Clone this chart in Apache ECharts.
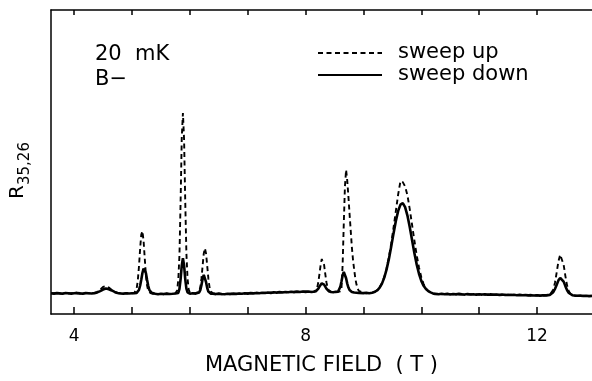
<!DOCTYPE html>
<html><head><meta charset="utf-8">
<script src="https://cdn.jsdelivr.net/npm/echarts@6/dist/echarts.min.js"></script>
<style>html,body{margin:0;padding:0;background:#fff}#c{width:592px;height:381px}</style>
</head><body><div id="c"></div>
<script>
// Magnetic field (T)
const fieldT = [
3.60,3.65,3.70,3.75,3.80,3.85,3.90,3.95,4.00,4.05,4.10,4.15,4.20,4.25,4.30,
4.35,4.40,4.45,4.50,4.55,4.60,4.65,4.70,4.75,4.80,4.85,4.90,4.95,5.00,
5.04,5.06,5.08,5.10,5.12,5.14,5.16,5.18,5.20,5.22,5.24,5.26,5.28,5.30,5.32,5.34,5.36,
5.40,5.45,5.50,5.55,5.60,5.65,5.70,5.75,
5.78,5.80,5.82,5.84,5.86,5.88,5.90,5.92,5.94,5.96,5.98,6.00,
6.05,6.10,6.16,6.18,6.20,6.22,6.24,6.26,6.28,6.30,6.32,6.34,6.36,
6.40,6.45,6.50,6.55,6.60,6.65,6.70,6.75,6.80,6.85,6.90,6.95,7.00,7.05,7.10,7.15,7.20,7.25,7.30,7.35,7.40,7.45,7.50,7.55,7.60,7.65,7.70,7.75,7.80,7.85,7.90,7.95,8.00,8.05,8.10,
8.14,8.16,8.18,8.20,8.22,8.24,8.26,8.28,8.30,8.32,8.34,8.36,8.38,8.40,8.42,8.44,
8.48,8.52,8.56,
8.58,8.60,8.62,8.64,8.66,8.68,8.70,8.72,8.74,8.76,8.78,8.80,8.82,8.84,8.86,8.88,8.90,8.92,
8.95,9.00,9.05,9.10,9.15,
9.20,9.24,9.28,9.32,9.36,9.40,9.44,9.48,9.52,9.56,9.60,9.64,9.68,9.72,9.76,9.80,9.84,9.88,9.92,9.96,10.00,10.04,10.08,10.12,10.16,10.20,10.24,
10.30,10.35,10.40,10.45,10.50,10.55,10.60,10.65,10.70,10.75,10.80,10.85,10.90,10.95,11.00,11.05,11.10,11.15,11.20,11.25,11.30,11.35,11.40,11.45,11.50,11.55,11.60,11.65,11.70,11.75,11.80,11.85,11.90,11.95,12.00,12.05,12.10,
12.13,12.16,12.19,12.22,12.25,12.28,12.31,12.34,12.37,12.40,12.43,12.46,12.49,12.52,12.55,12.58,12.61,12.64,12.67,12.70,
12.75,12.80,12.85,12.90,12.95
];
// R35,26 (arb. units), sweep down (solid)
const sweepDown = [
21.2,20.8,21.3,21.0,20.7,21.4,21.1,20.8,21.2,21.5,21.0,20.8,21.3,21.1,20.9,
21.3,22.0,23.4,25.0,26.0,25.3,24.0,22.5,21.5,21.0,20.7,21.2,20.9,21.1,
21.2,21.3,21.5,22.3,24.5,28.8,35.0,41.8,46.4,46.8,41.8,35.0,28.8,24.5,22.5,21.6,21.0,
20.6,20.2,20.7,20.3,20.8,20.4,20.6,20.9,
20.8,21.5,25.7,35.6,49.6,57.0,49.6,35.6,25.9,22.0,21.0,20.7,
21.2,20.8,22.0,24.4,29.3,35.7,39.8,38.3,32.5,26.5,22.9,21.5,20.8,
20.6,20.3,20.8,20.4,20.1,20.6,20.3,20.8,20.5,20.9,20.6,21.1,20.8,21.3,21.0,21.5,21.2,21.7,21.4,21.9,21.5,22.1,21.8,22.3,21.9,22.5,22.2,22.7,22.3,22.8,22.5,23.0,22.6,22.9,22.5,
22.7,22.8,23.3,24.3,25.9,28.0,30.0,31.3,31.3,30.0,28.0,25.9,24.3,23.3,22.8,22.5,
22.2,22.6,22.7,
24.2,27.6,33.1,39.3,42.9,41.6,36.4,31.0,27.0,24.5,23.2,22.5,22.3,22.0,21.8,21.7,21.5,21.4,
21.8,21.3,21.6,21.2,21.7,
22.7,24.2,26.8,31.0,37.1,45.5,56.2,68.8,82.2,94.9,105.2,111.5,113.0,108.9,100.4,88.7,75.5,62.3,50.6,41.0,33.8,28.7,25.4,23.3,22.0,21.0,20.5,
20.2,20.6,20.1,20.5,19.9,20.4,20.0,20.5,20.1,19.8,20.3,19.9,20.2,19.7,20.1,19.8,20.2,19.7,20.0,19.6,19.9,19.5,19.8,19.4,19.7,19.3,19.6,19.2,19.5,19.1,19.4,19.0,19.2,18.8,19.1,18.7,19.0,
18.9,19.0,19.1,19.5,20.3,22.2,25.5,29.9,34.3,36.8,36.3,33.0,28.4,24.2,21.4,19.9,19.2,18.8,18.6,18.5,
18.7,18.3,18.6,18.2,18.5
];
// R35,26 (arb. units), sweep up (dashed)
const sweepUp = [
21.0,21.1,21.2,20.8,21.0,21.3,20.9,21.1,21.4,21.2,20.9,21.1,21.5,21.0,21.2,
21.4,22.6,25.0,27.6,28.4,27.0,24.6,22.4,21.4,21.1,20.9,21.3,21.0,21.2,
21.4,22.5,25.9,34.0,48.2,66.2,81.0,84.6,74.6,57.0,40.3,29.3,23.8,21.9,21.3,20.9,20.6,
20.8,20.4,20.5,20.6,20.7,20.3,20.9,21.2,
24.0,35.0,60.0,115.0,180.0,205.0,178.0,115.0,62.0,36.0,25.0,21.8,
21.0,21.1,23.0,27.2,36.0,48.9,61.6,67.0,61.6,48.9,36.0,27.2,23.0,
21.2,20.5,20.6,20.2,20.5,20.4,20.7,20.6,20.3,20.8,21.0,20.9,21.2,21.0,21.4,21.3,21.6,21.4,21.8,21.6,22.0,21.8,22.2,22.0,22.4,22.1,22.6,22.3,22.8,22.5,22.9,22.6,23.0,22.7,22.8,
22.6,23.0,24.3,26.7,32.4,40.9,50.0,56.1,56.1,50.0,40.9,32.4,26.7,24.3,23.0,22.6,
22.4,22.3,22.5,
22.5,23.0,26.0,50.0,92.0,130.0,147.0,136.0,120.0,102.0,85.0,68.0,55.0,45.0,36.0,30.0,26.0,23.5,
22.0,21.5,21.2,21.4,21.9,
22.9,24.3,27.2,31.5,37.8,46.5,58.0,72.0,88.0,105.0,122.0,135.5,134.5,130.0,121.0,107.0,91.0,75.0,60.0,47.5,37.5,30.5,26.0,23.5,22.0,21.2,20.6,
20.4,20.1,20.5,20.2,20.3,20.0,20.4,20.1,19.9,20.3,20.0,20.2,19.8,20.1,19.9,20.2,19.7,20.0,19.8,19.9,19.6,19.8,19.5,19.7,19.4,19.6,19.3,19.5,19.2,19.4,19.0,19.3,18.9,19.1,18.8,19.0,18.9,
19.0,19.1,19.3,19.6,21.0,24.7,31.9,42.5,53.7,60.5,59.0,50.2,38.7,29.0,23.1,20.4,19.3,18.9,18.7,18.4,
18.5,18.6,18.3,18.5,18.4
];
const tickValues = [4,5,6,7,8,9,10,11,12];
const labelValues = [4,8,12];
const seriesNames = ['sweep up','sweep down'];

const FONT = '"DejaVu Sans", sans-serif';
const upPts = fieldT.map((x,i)=>[x, sweepUp[i]]);
const downPts = fieldT.map((x,i)=>[x, sweepDown[i]]);
if (sweepUp.length !== fieldT.length || sweepDown.length !== fieldT.length) console.error('length mismatch', fieldT.length, sweepUp.length, sweepDown.length);

const chart = echarts.init(document.getElementById('c'), null, {renderer:'canvas'});
const axisLineStyle = {color:'#000', width:1.5};
chart.setOption({
  animation:false,
  backgroundColor:'#fff',
  grid:{left:50, right:0, top:10, bottom:61},
  xAxis:[{
    type:'value', position:'bottom', min:3.6, max:12.95,
    axisLine:{show:true, onZero:false, lineStyle:axisLineStyle},
    axisTick:{show:true, inside:true, length:7, customValues:tickValues, lineStyle:axisLineStyle},
    axisLabel:{show:true, customValues:labelValues, margin:14, color:'#000', fontSize:17, fontFamily:FONT},
    splitLine:{show:false},
    name:'MAGNETIC FIELD  ( T )', nameLocation:'middle', nameGap:41,
    nameTextStyle:{color:'#000', fontSize:21, fontFamily:FONT}
  },{
    type:'value', position:'top', min:3.6, max:12.95,
    axisLine:{show:true, onZero:false, lineStyle:axisLineStyle},
    axisTick:{show:true, inside:true, length:5, customValues:tickValues, lineStyle:axisLineStyle},
    axisLabel:{show:false}, splitLine:{show:false}
  }],
  yAxis:{
    type:'value', min:0, max:310,
    axisLine:{show:true, onZero:false, lineStyle:axisLineStyle},
    axisTick:{show:false}, axisLabel:{show:false}, splitLine:{show:false},
    name:'{r|R}{s|35,26}', nameLocation:'middle', nameRotate:90, nameGap:18,
    nameTextStyle:{color:'#000', padding:[0,17,0,0], rich:{
      r:{fontSize:20, fontFamily:FONT, color:'#000', lineHeight:30, verticalAlign:'middle'},
      s:{fontSize:15, fontFamily:FONT, color:'#000', lineHeight:30, verticalAlign:'bottom'}
    }}
  },
  legend:{
    orient:'vertical', left:317, top:42, padding:0, itemWidth:64, itemHeight:14, itemGap:0,
    data:seriesNames,
    itemStyle:{opacity:0, color:'transparent', borderWidth:0},
    textStyle:{fontFamily:FONT, fontSize:21, color:'#000', lineHeight:22, padding:[0,0,0,11]}
  },
  graphic:[
    {type:'text', x:95, y:54.5, style:{text:'20  mK', font:'21px "DejaVu Sans"', fill:'#000', verticalAlign:'middle'}},
    {type:'text', x:95, y:80, style:{text:'B\u2212', font:'21px "DejaVu Sans"', fill:'#000', verticalAlign:'middle'}}
  ],
  series:[{
    name:seriesNames[0], type:'line', data:upPts, symbol:'none', showSymbol:false,
    lineStyle:{color:'#000', width:1.9, type:[5,3.5]}, itemStyle:{color:'#000'}, z:2
  },{
    name:seriesNames[1], type:'line', data:downPts, symbol:'none', showSymbol:false,
    lineStyle:{color:'#000', width:2.6, type:'solid'}, itemStyle:{color:'#000'}, z:3
  }]
});
</script></body></html>
